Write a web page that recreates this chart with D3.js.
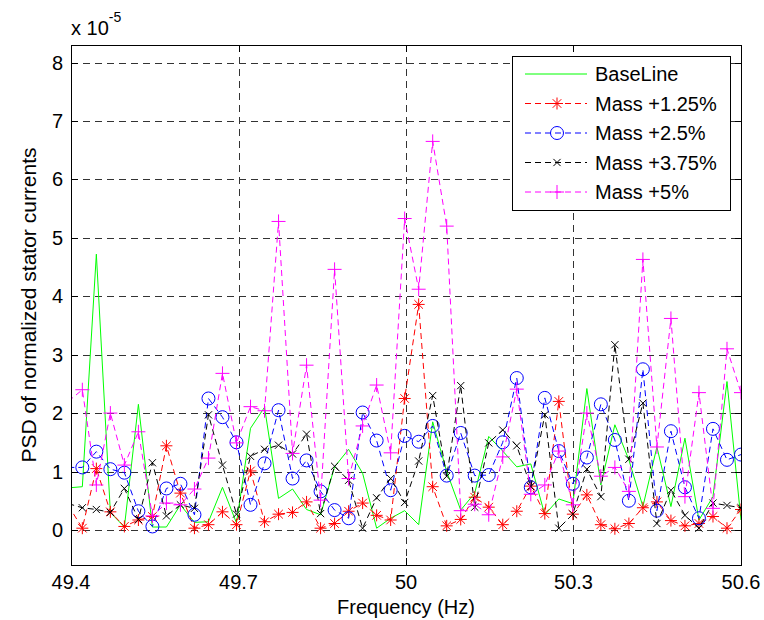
<!DOCTYPE html>
<html>
<head>
<meta charset="utf-8">
<script src="https://cdn.jsdelivr.net/npm/d3@7"></script>
<style>
  body { margin: 0; background: #fff; }
  text { font-family: "Liberation Sans", Arial, sans-serif; fill: #000; }
</style>
</head>
<body>
<div id="chart"></div>
<script>
// frequency bins (Hz), first one sits just left of the axis and is clipped
var freqs = [49.3952, 49.4203, 49.4454, 49.4705, 49.4956, 49.5207, 49.5458, 49.5709, 49.5960, 49.6211,
    49.6462, 49.6713, 49.6964, 49.7215, 49.7466, 49.7717, 49.7968, 49.8219, 49.8470, 49.8721,
    49.8972, 49.9223, 49.9474, 49.9725, 49.9976, 50.0227, 50.0478, 50.0729, 50.0980, 50.1231,
    50.1482, 50.1733, 50.1984, 50.2235, 50.2486, 50.2737, 50.2988, 50.3239, 50.3490, 50.3741,
    50.3992, 50.4243, 50.4494, 50.4745, 50.4996, 50.5247, 50.5498, 50.5749, 50.6000];

// PSD values, x 1e-5
var baseLine = [0.72, 0.74, 4.72, 0.30, 0.05, 2.15, 0.05, 0.05, 0.43, 0.13,
    0.14, 0.73, 0.12, 1.74, 2.10, 0.54, 0.70, 0.35, 0.26, 1.08,
    1.38, 0.97, 0.03, 0.20, 0.33, 0.09, 1.85, 1.00, 0.34, 0.63,
    1.60, 1.35, 1.08, 1.13, 0.26, 0.53, 0.45, 2.42, 0.77, 1.80,
    1.20, 0.40, 1.42, 0.40, 1.57, 0.17, 0.57, 2.54, 0.17];
var mass125 = [0.42, 0.03, 1.05, 0.31, 0.06, 0.17, 0.23, 1.44, 0.63, 0.03,
    0.09, 0.31, 0.09, 1.01, 0.14, 0.27, 0.30, 0.48, 0.03, 0.11,
    0.32, 0.46, 0.25, 0.17, 2.25, 3.86, 0.74, 0.07, 0.18, 0.56,
    0.39, 0.09, 0.32, 0.75, 0.28, 2.20, 0.27, 0.60, 0.09, 0.02,
    0.11, 0.38, 0.48, 0.16, 0.07, 0.11, 0.23, 0.03, 0.35];
var mass25 = [1.07, 1.07, 1.34, 1.04, 0.98, 0.32, 0.06, 0.71, 0.79, 0.26,
    2.25, 1.93, 1.50, 0.43, 1.14, 2.05, 0.88, 1.19, 0.66, 0.34,
    0.20, 2.01, 1.53, 0.68, 1.61, 1.51, 1.78, 0.93, 1.66, 0.93,
    0.94, 1.50, 2.60, 0.73, 2.26, 1.35, 0.79, 1.24, 2.15, 1.54,
    0.50, 2.75, 0.33, 1.69, 0.73, 0.20, 1.73, 1.20, 1.29];
var mass375 = [0.45, 0.38, 0.35, 0.30, 0.71, 0.18, 1.15, 0.24, 0.43, 0.37,
    1.97, 1.11, 0.27, 1.26, 1.38, 1.45, 1.30, 1.64, 0.28, 1.09,
    0.85, 0.03, 0.55, 0.88, 0.47, 1.18, 2.30, 0.92, 2.47, 0.39,
    1.49, 1.71, 1.44, 0.74, 1.97, 0.03, 0.27, 1.04, 0.57, 3.17,
    1.21, 2.17, 0.11, 0.68, 0.25, 0.03, 0.46, 0.42, 0.38];
var mass5 = [2.20, 2.40, 0.77, 2.00, 1.11, 1.68, 0.24, 0.46, 0.43, 0.70,
    1.23, 2.68, 1.49, 2.11, 2.04, 5.28, 1.31, 2.82, 0.51, 4.46,
    0.88, 1.78, 2.48, 1.32, 5.33, 4.12, 6.65, 5.20, 0.33, 0.44,
    0.26, 1.25, 2.41, 0.61, 0.77, 1.35, 0.43, 2.00, 0.92, 1.07,
    0.66, 4.63, 1.42, 3.62, 0.57, 2.35, 0.37, 3.10, 2.35];

var xTicks = [49.4, 49.7, 50, 50.3, 50.6];
var xTickLabels = ["49.4", "49.7", "50", "50.3", "50.6"];
var yTicks = [0, 1, 2, 3, 4, 5, 6, 7, 8];

var series = [
    { name: "BaseLine", values: baseLine, color: "#00ff00", dash: null, marker: "none" },
    { name: "Mass +1.25%", values: mass125, color: "#ff0000", dash: "6,4", marker: "star" },
    { name: "Mass +2.5%", values: mass25, color: "#0000ff", dash: "6,4", marker: "circle" },
    { name: "Mass +3.75%", values: mass375, color: "#000000", dash: "6,4", marker: "cross" },
    { name: "Mass +5%", values: mass5, color: "#ff00ff", dash: "6,4", marker: "plus" }
];

(function () {
    var W = 764, H = 620;
    var pL = 71, pR = 741, pT = 45, pB = 565;

    var svg = d3.select("#chart").append("svg")
        .attr("width", W)
        .attr("height", H);

    var x = d3.scaleLinear().domain([49.4, 50.6]).range([pL, pR]);
    var y = d3.scaleLinear().domain([-0.6, 8.3]).range([pB, pT]);

    svg.append("defs").append("clipPath")
        .attr("id", "plotclip")
        .append("rect")
        .attr("x", pL).attr("y", pT)
        .attr("width", pR - pL).attr("height", pB - pT);

    // grid
    var grid = svg.append("g").attr("class", "grid");
    grid.selectAll("line.gy")
        .data(yTicks)
        .enter()
        .append("line")
        .attr("class", "gy")
        .attr("x1", pL).attr("x2", pR)
        .attr("y1", function (d) { return Math.round(y(d)) + 0.5; })
        .attr("y2", function (d) { return Math.round(y(d)) + 0.5; })
        .style("stroke", "#333")
        .style("stroke-dasharray", "7,5")
        .style("stroke-width", 1);
    grid.selectAll("line.gx")
        .data(xTicks.slice(1, -1))
        .enter()
        .append("line")
        .attr("class", "gx")
        .attr("y1", pT).attr("y2", pB)
        .attr("x1", function (d) { return Math.round(x(d)) + 0.5; })
        .attr("x2", function (d) { return Math.round(x(d)) + 0.5; })
        .style("stroke", "#333")
        .style("stroke-dasharray", "7,5")
        .style("stroke-width", 1);

    // marker shapes
    function markerPath(type) {
        if (type === "star") {
            var r = 6, q = 4.3;
            return "M" + (-r) + ",0L" + r + ",0M0," + (-r) + "L0," + r +
                "M" + (-q) + "," + (-q) + "L" + q + "," + q + "M" + (-q) + "," + q + "L" + q + "," + (-q);
        }
        if (type === "cross") {
            var c = 3.6;
            return "M" + (-c) + "," + (-c) + "L" + c + "," + c + "M" + (-c) + "," + c + "L" + c + "," + (-c);
        }
        if (type === "plus") {
            var p = 7;
            return "M" + (-p) + ",0L" + p + ",0M0," + (-p) + "L0," + p;
        }
        return "";
    }

    var plot = svg.append("g").attr("clip-path", "url(#plotclip)");
    var line = d3.line()
        .x(function (d, i) { return x(freqs[i]); })
        .y(function (d) { return y(d); });

    series.forEach(function (s) {
        var g = plot.append("g");
        g.append("path")
            .datum(s.values)
            .attr("d", line)
            .style("fill", "none")
            .style("stroke", s.color)
            .style("stroke-width", 1)
            .style("stroke-dasharray", s.dash);
        if (s.marker === "none") return;
        var pts = s.values.map(function (v, i) { return { f: freqs[i], v: v }; })
            .filter(function (d) { return d.f >= 49.4 - 1e-9 && d.f <= 50.6 + 1e-9; });
        if (s.marker === "circle") {
            g.selectAll("circle")
                .data(pts)
                .enter()
                .append("circle")
                .attr("cx", function (d) { return x(d.f); })
                .attr("cy", function (d) { return y(d.v); })
                .attr("r", 6.5)
                .style("fill", "none")
                .style("stroke", s.color)
                .style("stroke-width", 1);
        } else {
            g.selectAll("path.m")
                .data(pts)
                .enter()
                .append("path")
                .attr("class", "m")
                .attr("transform", function (d) { return "translate(" + x(d.f) + "," + y(d.v) + ")"; })
                .attr("d", markerPath(s.marker))
                .style("fill", "none")
                .style("stroke", s.color)
                .style("stroke-width", 1);
        }
    });

    // frame and ticks
    svg.append("rect")
        .attr("x", pL + 0.5).attr("y", pT + 0.5)
        .attr("width", pR - pL).attr("height", pB - pT)
        .style("fill", "none")
        .style("stroke", "#000")
        .style("stroke-width", 1);

    var ticks = svg.append("g");
    yTicks.forEach(function (t) {
        var yy = Math.round(y(t)) + 0.5;
        ticks.append("line").attr("x1", pL).attr("x2", pL + 7).attr("y1", yy).attr("y2", yy).style("stroke", "#000");
        ticks.append("line").attr("x1", pR - 6).attr("x2", pR + 1).attr("y1", yy).attr("y2", yy).style("stroke", "#000");
        ticks.append("text")
            .attr("x", pL - 8)
            .attr("y", y(t) + 7)
            .attr("text-anchor", "end")
            .style("font-size", "20px")
            .text(t);
    });
    xTicks.forEach(function (t, i) {
        var xx = Math.round(x(t)) + 0.5;
        ticks.append("line").attr("x1", xx).attr("x2", xx).attr("y1", pB).attr("y2", pB - 7).style("stroke", "#000");
        ticks.append("line").attr("x1", xx).attr("x2", xx).attr("y1", pT).attr("y2", pT + 7).style("stroke", "#000");
        ticks.append("text")
            .attr("x", x(t))
            .attr("y", pB + 24)
            .attr("text-anchor", "middle")
            .style("font-size", "20px")
            .text(xTickLabels[i]);
    });

    // exponent
    var expo = svg.append("text").attr("x", pL).attr("y", 35).style("font-size", "20px");
    expo.append("tspan").text("x 10");
    expo.append("tspan").attr("dy", -13).style("font-size", "14px").text("-5");

    // axis labels
    svg.append("text")
        .attr("x", (pL + pR) / 2)
        .attr("y", 614)
        .attr("text-anchor", "middle")
        .style("font-size", "20px")
        .text("Frequency (Hz)");
    svg.append("text")
        .attr("transform", "translate(36," + ((pT + pB) / 2) + ") rotate(-90)")
        .attr("text-anchor", "middle")
        .style("font-size", "21px")
        .text("PSD of normalized stator currents");

    // legend
    var lg = svg.append("g").attr("transform", "translate(512,56)");
    lg.append("rect")
        .attr("x", 0.5).attr("y", 0.5)
        .attr("width", 218).attr("height", 154)
        .style("fill", "#fff")
        .style("stroke", "#000");
    series.forEach(function (s, i) {
        var ly = 18 + i * 29.5;
        lg.append("line")
            .attr("x1", 13).attr("x2", 75)
            .attr("y1", ly).attr("y2", ly)
            .style("stroke", s.color)
            .style("stroke-dasharray", s.dash);
        if (s.marker === "circle") {
            lg.append("circle").attr("cx", 45).attr("cy", ly).attr("r", 6.5)
                .style("fill", "none").style("stroke", s.color);
        } else if (s.marker !== "none") {
            lg.append("path").attr("transform", "translate(45," + ly + ")")
                .attr("d", markerPath(s.marker))
                .style("fill", "none").style("stroke", s.color);
        }
        lg.append("text")
            .attr("x", 83).attr("y", ly + 7)
            .style("font-size", "20px")
            .text(s.name);
    });
})();
</script>
</body>
</html>
